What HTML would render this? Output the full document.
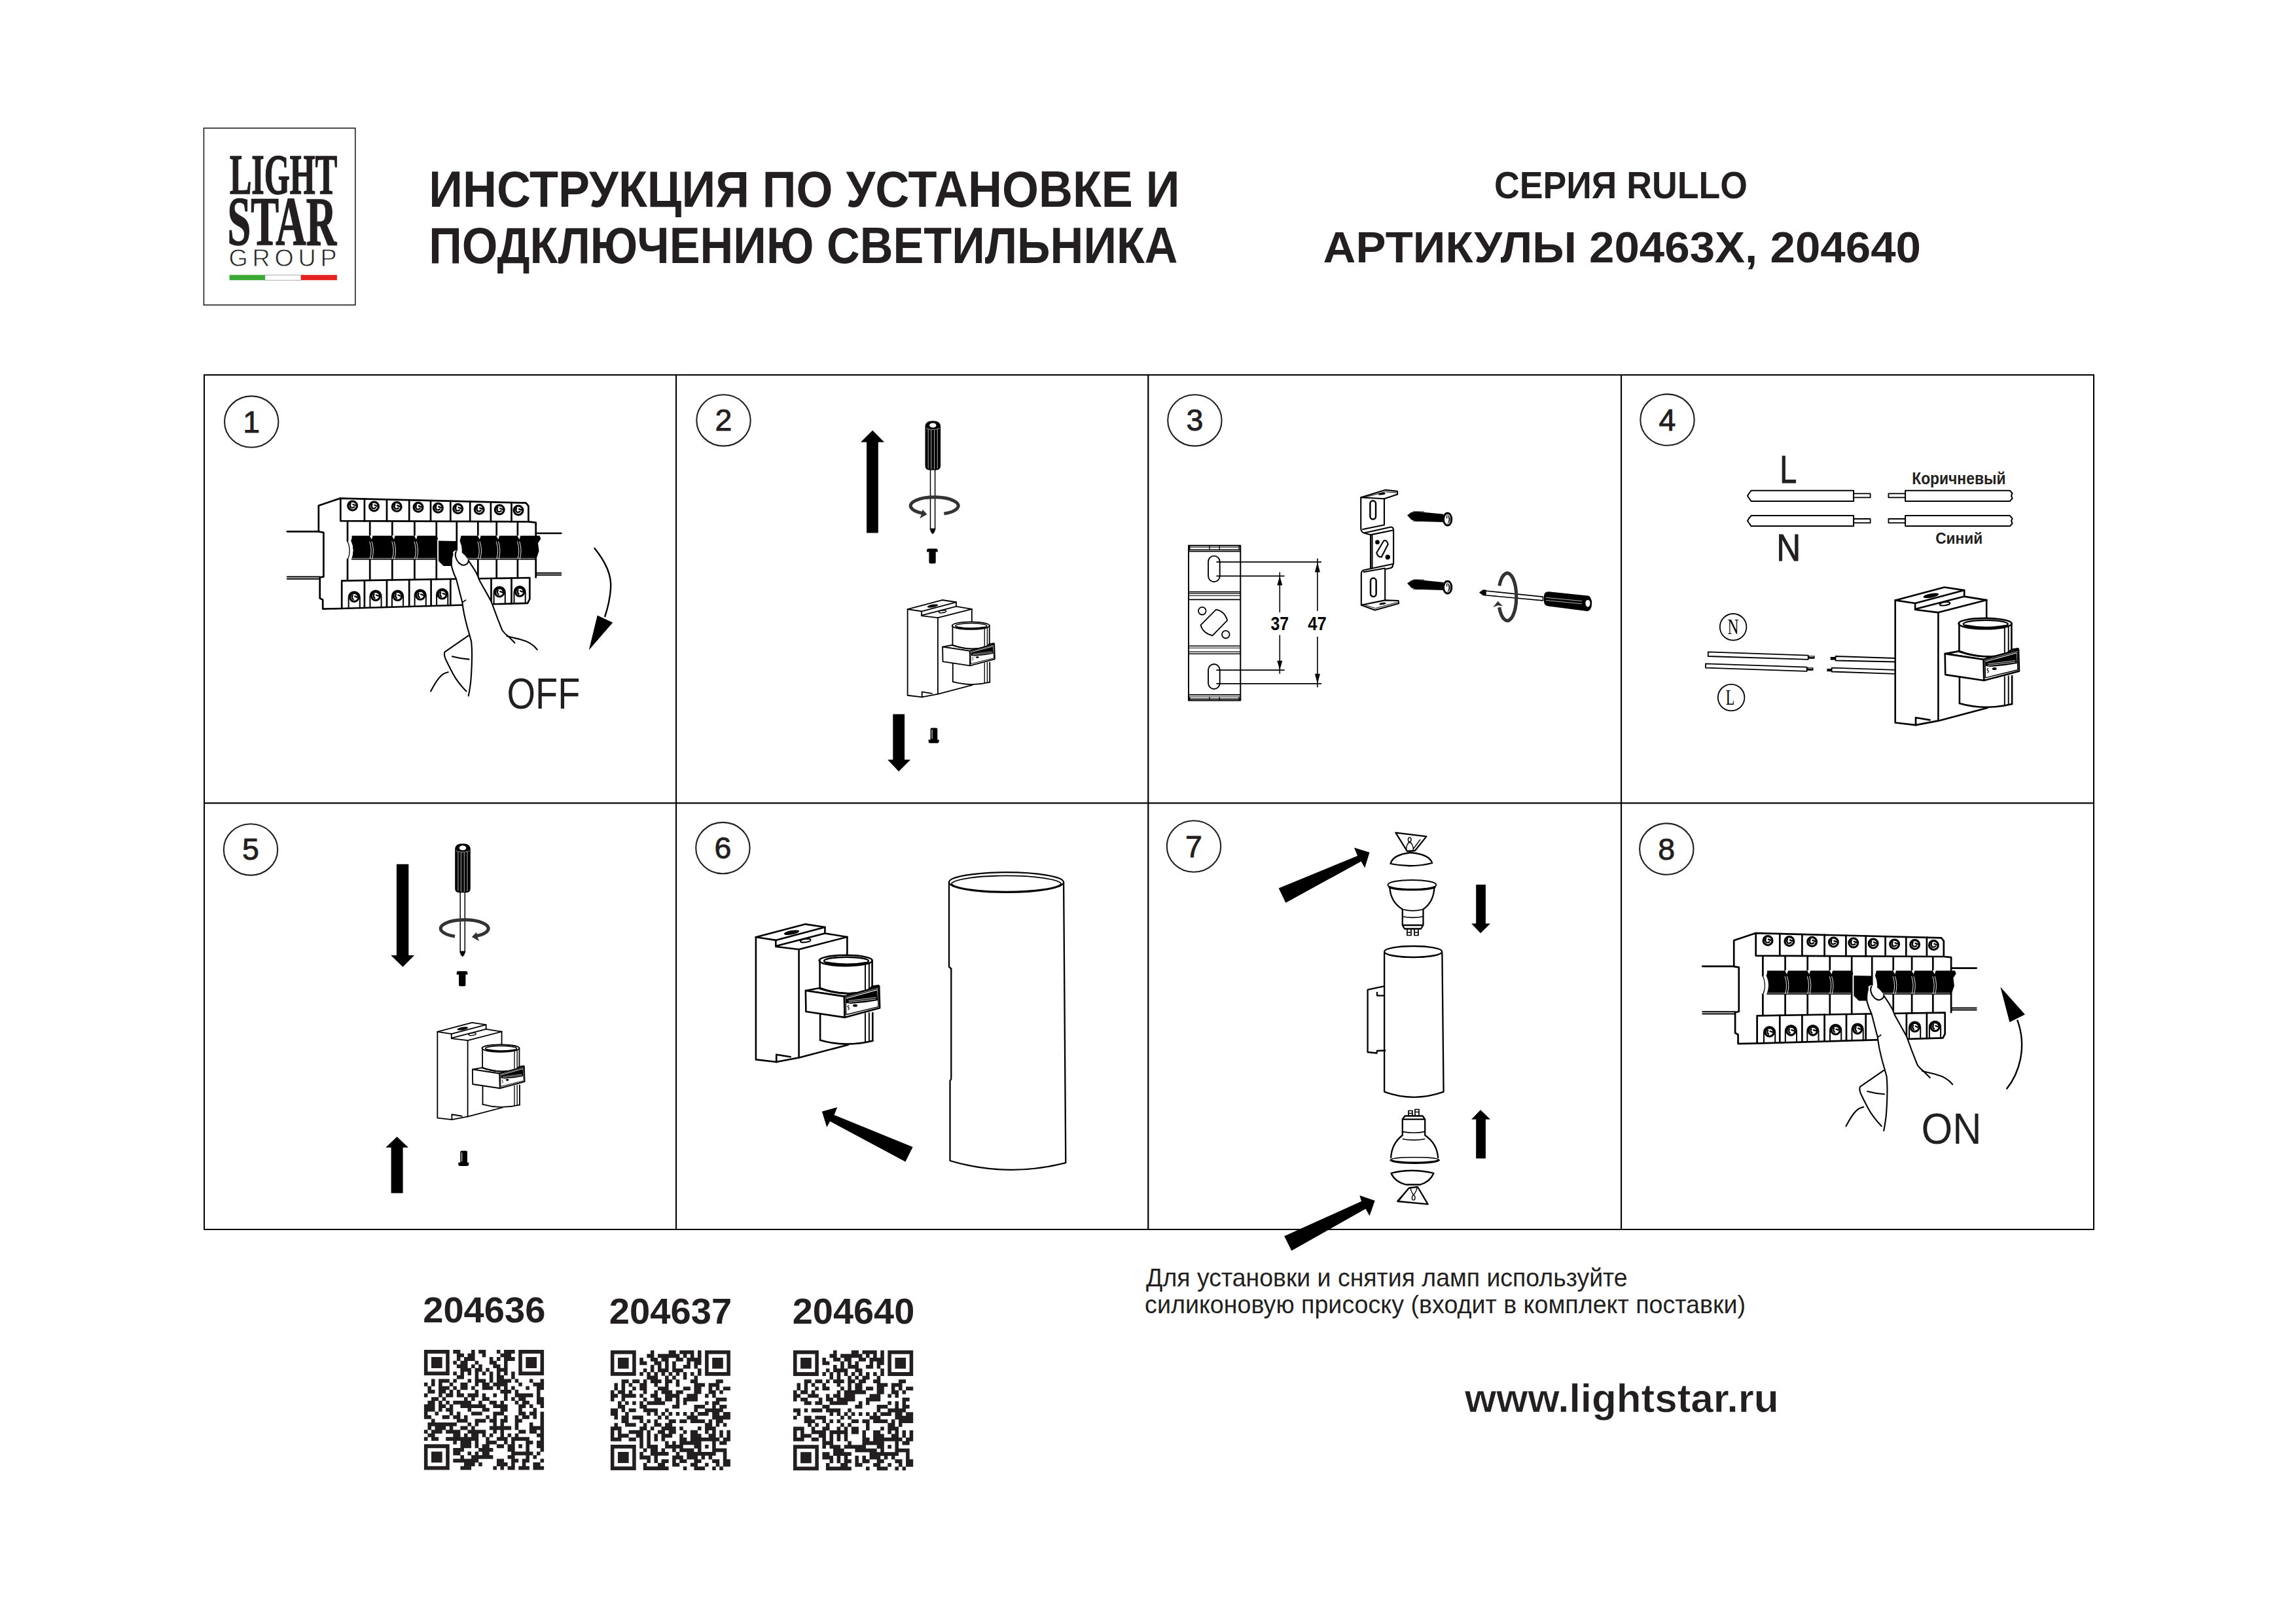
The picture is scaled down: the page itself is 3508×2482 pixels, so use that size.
<!DOCTYPE html>
<html><head><meta charset="utf-8"><title>Инструкция RULLO</title>
<style>
html,body{margin:0;padding:0;background:#fff;}
body{width:3508px;height:2482px;overflow:hidden;position:relative;}
svg{position:absolute;left:0;top:0;}
.t{font-family:"Liberation Sans",sans-serif;fill:#231f20;}
.b{font-weight:bold;}
.ln{fill:none;stroke:#000;stroke-linecap:round;stroke-linejoin:round;}
</style></head>
<body>
<svg width="3508" height="2482" viewBox="0 0 3508 2482">
<!-- LOGO -->
<g id="logo">
<rect x="311.4" y="195.8" width="231.4" height="270.3" fill="none" stroke="#231f20" stroke-width="1.6"/>
<text x="351" y="296.2" class="b" font-family="Liberation Serif" font-size="86" fill="#231f20" stroke="#231f20" stroke-width="1.6" textLength="164" lengthAdjust="spacingAndGlyphs">LIGHT</text>
<text x="347.5" y="373.8" class="b" font-family="Liberation Serif" font-size="105" fill="#231f20" stroke="#231f20" stroke-width="1.6" textLength="166.5" lengthAdjust="spacingAndGlyphs">STAR</text>
<text x="349.5" y="407" class="t" font-size="37.5" font-weight="normal" stroke="#fff" stroke-width="0.8" textLength="165" lengthAdjust="spacing">GROUP</text>
<rect x="350.6" y="420.2" width="54.3" height="8" fill="#3aaa35"/>
<rect x="404.9" y="420.2" width="55" height="8" fill="#fff" stroke="#777" stroke-width="0.6"/>
<rect x="459.9" y="420.2" width="55" height="8" fill="#e52421"/>
</g>
<!-- TITLES -->
<text x="655.2" y="315.9" class="t b" font-size="78" textLength="1147.4" lengthAdjust="spacingAndGlyphs">ИНСТРУКЦИЯ ПО УСТАНОВКЕ И</text>
<text x="655.2" y="401.8" class="t b" font-size="78" textLength="1144.4" lengthAdjust="spacingAndGlyphs">ПОДКЛЮЧЕНИЮ СВЕТИЛЬНИКА</text>
<text x="2283" y="303.2" class="t b" font-size="56.5" textLength="387" lengthAdjust="spacingAndGlyphs">СЕРИЯ RULLO</text>
<text x="2021.6" y="401.4" class="t b" font-size="66.9" textLength="913.4" lengthAdjust="spacingAndGlyphs">АРТИКУЛЫ 20463X, 204640</text>
<!-- GRID -->
<g fill="#000">
<rect x="311" y="572" width="2889" height="2"/>
<rect x="311" y="1226.3" width="2889" height="2.2"/>
<rect x="311" y="1878" width="2889" height="2"/>
<rect x="311" y="572" width="2" height="1308"/>
<rect x="1032" y="572" width="2.1" height="1308"/>
<rect x="1753.2" y="572" width="2.2" height="1308"/>
<rect x="2476" y="572" width="2.1" height="1308"/>
<rect x="3198" y="572" width="2" height="1308"/>
</g>
<!-- STEP NUMBERS -->
<g fill="none" stroke="#231f20" stroke-width="2.1">
<ellipse cx="384.2" cy="644.6" rx="41.2" ry="39.2"/>
<ellipse cx="1105.5" cy="642.4" rx="41.2" ry="39.2"/>
<ellipse cx="1825.4" cy="642.4" rx="41.2" ry="39.2"/>
<ellipse cx="2547.5" cy="641.6" rx="41.2" ry="39.2"/>
<ellipse cx="383" cy="1298.4" rx="41.2" ry="39.2"/>
<ellipse cx="1104.4" cy="1296.1" rx="41.2" ry="39.2"/>
<ellipse cx="1824" cy="1293.5" rx="41.2" ry="39.2"/>
<ellipse cx="2546.3" cy="1297.6" rx="41.2" ry="39.2"/>
</g>
<g class="t" font-size="46.5" text-anchor="middle" stroke="#231f20" stroke-width="0.9">
<text x="384.2" y="661">1</text>
<text x="1105.5" y="658">2</text>
<text x="1825.4" y="658">3</text>
<text x="2547.5" y="658">4</text>
<text x="383" y="1314.1">5</text>
<text x="1104.4" y="1312">6</text>
<text x="1824" y="1309.7">7</text>
<text x="2546.3" y="1314">8</text>
</g>
<!-- PANELS -->

<!-- p1.svg -->
<defs><g id="breaker"><g id="brk" class="ln" stroke-width="2.7">
<path d="M438.8 812.3H487.5M819 815H857.3" />
<path d="M438.8 881.6H489M438.8 884.8H489M819 875.8H857.3M819 878.8H857.3" stroke-width="2"/>
<path d="M519.7 761.6L486.8 772.7V812.5L494.4 813.8V881.4L488.7 882.6V914.2L493.2 916.7V930.6L522.2 930"/>
<path d="M520.3 761.6L803.6 768.7L807.4 773.4V797.4L818.7 798.6V882.6M520.3 761.6V796.1L807.4 797.4"/>
<path d="M556.9 762.5V796.3"/>
<path d="M591.0 763.4V796.4"/>
<path d="M625.2 764.2V796.6"/>
<path d="M658.0 765.1V796.7"/>
<path d="M688.3 765.8V796.9"/>
<path d="M718.2 766.6V797.0"/>
<path d="M749.9 767.4V797.2"/>
<path d="M781.5 768.1V797.3"/>
<circle cx="538.6" cy="773" r="6.9" stroke-width="3.2"/><path d="M535.6 769.5q-2 4 1 6.5M539.6 771l3.5 1.5M538.6 776l2.5 -1" stroke-width="2.4"/>
<circle cx="571.5" cy="774" r="6.9" stroke-width="3.2"/><path d="M568.5 770.5q-2 4 1 6.5M572.5 772l3.5 1.5M571.5 777l2.5 -1" stroke-width="2.4"/>
<circle cx="606.2" cy="774.6" r="6.9" stroke-width="3.2"/><path d="M603.2 771.1q-2 4 1 6.5M607.2 772.6l3.5 1.5M606.2 777.6l2.5 -1" stroke-width="2.4"/>
<circle cx="639" cy="775.3" r="6.9" stroke-width="3.2"/><path d="M636 771.8q-2 4 1 6.5M640 773.3l3.5 1.5M639 778.3l2.5 -1" stroke-width="2.4"/>
<circle cx="669.4" cy="776.3" r="6.9" stroke-width="3.2"/><path d="M666.4 772.8q-2 4 1 6.5M670.4 774.3l3.5 1.5M669.4 779.3l2.5 -1" stroke-width="2.4"/>
<circle cx="699.7" cy="777.5" r="6.9" stroke-width="3.2"/><path d="M696.7 774.0q-2 4 1 6.5M700.7 775.5l3.5 1.5M699.7 780.5l2.5 -1" stroke-width="2.4"/>
<circle cx="732.2" cy="778.4" r="6.9" stroke-width="3.2"/><path d="M729.2 774.9q-2 4 1 6.5M733.2 776.4l3.5 1.5M732.2 781.4l2.5 -1" stroke-width="2.4"/>
<circle cx="763.2" cy="779" r="6.9" stroke-width="3.2"/><path d="M760.2 775.5q-2 4 1 6.5M764.2 777l3.5 1.5M763.2 782l2.5 -1" stroke-width="2.4"/>
<circle cx="792" cy="779.9" r="6.9" stroke-width="3.2"/><path d="M789 776.4q-2 4 1 6.5M793 777.9l3.5 1.5M792 782.9l2.5 -1" stroke-width="2.4"/>
<path d="M531 797.7V827M531 854.8V886.4"/>
<path d="M565.2 797.7V887.0"/>
<path d="M599.3 797.7V886.4"/>
<path d="M633.4 797.7V885.9"/>
<path d="M666.8 797.7V885.3"/>
<path d="M697.8 797.7V884.8"/>
<path d="M730.3 797.7V884.3"/>
<path d="M758.7 797.7V883.8"/>
<path d="M790.9 797.7V883.3"/>
<path d="M522.8 887.7L809.3 883V915.5L806.1 921.8L522.2 930V887.7"/>
<path d="M556.9 887.1V929.0"/>
<path d="M591 886.6V928.0"/>
<path d="M625.2 886.0V927.0"/>
<path d="M658.6 885.5V926.1"/>
<path d="M688.3 885.0V925.2"/>
<path d="M718.5 884.5V924.3"/>
<path d="M750.5 884.0V923.4"/>
<path d="M781.5 883.5V922.5"/>
<path d="M532.6 929.5V912.9A8.6 8.6 0 0 1 549.8000000000001 912.9V929.5" stroke-width="2"/><circle cx="541.2" cy="912.9" r="6.5" stroke-width="3.1"/><path d="M538.7 909.9q-2 4 1 6M542.2 911.4l3 1.2" stroke-width="2.3"/>
<path d="M565.4 928.5V911A8.6 8.6 0 0 1 582.6 911V928.5" stroke-width="2"/><circle cx="574" cy="911" r="6.5" stroke-width="3.1"/><path d="M571.5 908q-2 4 1 6M575 909.5l3 1.2" stroke-width="2.3"/>
<path d="M598.9 927.5V911A8.6 8.6 0 0 1 616.1 911V927.5" stroke-width="2"/><circle cx="607.5" cy="911" r="6.5" stroke-width="3.1"/><path d="M605.0 908q-2 4 1 6M608.5 909.5l3 1.2" stroke-width="2.3"/>
<path d="M633.6 926.5V909.8A8.6 8.6 0 0 1 650.8000000000001 909.8V926.5" stroke-width="2"/><circle cx="642.2" cy="909.8" r="6.5" stroke-width="3.1"/><path d="M639.7 906.8q-2 4 1 6M643.2 908.3l3 1.2" stroke-width="2.3"/>
<path d="M667.1 925.6V908.5A8.6 8.6 0 0 1 684.3000000000001 908.5V925.6" stroke-width="2"/><circle cx="675.7" cy="908.5" r="6.5" stroke-width="3.1"/><path d="M673.2 905.5q-2 4 1 6M676.7 907.0l3 1.2" stroke-width="2.3"/>
<path d="M754.6 923.0V905.4A8.6 8.6 0 0 1 771.8000000000001 905.4V923.0" stroke-width="2"/><circle cx="763.2" cy="905.4" r="6.5" stroke-width="3.1"/><path d="M760.7 902.4q-2 4 1 6M764.2 903.9l3 1.2" stroke-width="2.3"/>
<path d="M785.5 922.1V904.7A8.6 8.6 0 0 1 802.7 904.7V922.1" stroke-width="2"/><circle cx="794.1" cy="904.7" r="6.5" stroke-width="3.1"/><path d="M791.6 901.7q-2 4 1 6M795.1 903.2l3 1.2" stroke-width="2.3"/>
</g>
<g fill="#000" stroke="none">
<path d="M537.5 818.8H667.5L669 823.5L667.5 826.5V855.5H536.5Q542.5 841 536 826.6L537.5 823Z"/>
<path d="M704.5 818.8H824.5L826.3 823.5L822 830L823.5 842L820 852.5L818 855.5H703Q709 841 702.5 826.6Z"/>
<path d="M670 826.4L697.1 827L697.8 838.4L691.5 851L690.2 864.9L677.6 864.9L670 857.4Z"/>
</g>
<g fill="none" stroke="#fff" stroke-width="0.9">
<path d="M564.7 827.5Q569.2 841 565.2 854.5M568.0 827.5Q572.5 841 568.5 854.5"/>
<path d="M598.8 827.5Q603.3 841 599.3 854.5M602.0999999999999 827.5Q606.5999999999999 841 602.5999999999999 854.5"/>
<path d="M632.9 827.5Q637.4 841 633.4 854.5M636.1999999999999 827.5Q640.6999999999999 841 636.6999999999999 854.5"/>
<path d="M729.8 827.5Q734.3 841 730.3 854.5M733.0999999999999 827.5Q737.5999999999999 841 733.5999999999999 854.5"/>
<path d="M758.2 827.5Q762.7 841 758.7 854.5M761.5 827.5Q766.0 841 762.0 854.5"/>
<path d="M790.4 827.5Q794.9 841 790.9 854.5M793.6999999999999 827.5Q798.1999999999999 841 794.1999999999999 854.5"/>
<path d="M537 853.3H666M704 853.3H817" stroke-width="0.7"/></g><path fill="#fff" d="M564.7 818.5L569.7 818.5L567.7 824.5ZM598.8 818.5L603.8 818.5L601.8 824.5ZM632.9 818.5L637.9 818.5L635.9 824.5ZM729.8 818.5L734.8 818.5L732.8 824.5ZM758.2 818.5L763.2 818.5L761.2 824.5ZM790.4 818.5L795.4 818.5L793.4 824.5Z"/><g>
</g>
<path d="M531 827H536.5Q542.5 841 536.5 855H531Z" fill="#fff" stroke="none"/>
<path d="M531 827Q537 841 531.5 855" fill="none" stroke="#000" stroke-width="1.3"/></g><g id="hand"><g class="ln" stroke-width="2.1">
<path fill="#fff" stroke="none" d="M691.7 846.5C692 843 694 841 697 841.5C705 842 712 849 715.8 856.9L727.9 875.8L732.2 886.2L750.3 918.8L760.6 946.3L767.5 963.5L776.1 972.1L786.4 982.4L715.8 1063.5L719.3 1041L721 1006.6L720.2 980.8L715.9 965.3L709 937.8L706.4 920.6L697 884.4L690 865.5Z"/>
<path d="M691.7 846.5C689.5 853 689.5 860 690 865.5C692 873 694 879 697 884.4C700 896 703 908 706.4 920.6C707 927 708 932 709 937.8C711 947 713 956 715.9 965.3C717.5 971 719 976 720.2 980.8C721 990 721.3 998 721 1006.6C720.8 1018 720.3 1030 719.3 1041C718.5 1049 717.2 1056 715.8 1063.5"/>
<path d="M715.8 856.9C720 863 724 869 727.9 875.8C729.5 879 731 882.5 732.2 886.2C738 897 744 907 750.3 918.8C754 928 757 937 760.6 946.3C763 952 765 958 767.5 963.5C770 967 773 970 776.1 972.1C780 976 783 979 786.4 982.4"/>
<path d="M696.9 843C694.5 847 696 855 701 860C704 863 707 864 709 863.7C713 863 716 860 715.8 856.9"/>
<path d="M774.4 972.1C781 974 788 975.5 795 977.3C806 980 815 985 820.8 992.8"/>
<path d="M715.8 971.3L679.6 996.3C678.5 999 679 1003 680.5 1006.6C684 1014 688 1022 691.7 1029C697 1039 704 1048 712.4 1056.6"/>
<path d="M690.8 1003.3C699 1005.5 707 1007 716.6 1007.6"/>
<path d="M658.1 1056.6C662 1049 666 1042 671 1035.9C675 1031 679 1028.5 684.8 1027.3"/>
<path d="M706.4 920.6L711.5 917.2" stroke-width="1.7"/>
</g></g></defs>
<use href="#breaker"/><use href="#hand"/>
<path d="M907.8 837.2C925 858 935 880 933 900C932 915 929 928 924 943" fill="none" stroke="#000" stroke-width="2.4"/>
<path d="M899.8 993.4L936.2 951.5L912.7 940.5Z" fill="#000"/>
<text x="774.5" y="1082.8" class="t" font-size="66.7" textLength="112" lengthAdjust="spacingAndGlyphs" fill="#000">OFF</text>
<g transform="translate(2162.4,664.6)"><use href="#breaker"/><use href="#hand"/></g>
<path d="M3065.7 1664.6C3085.6 1639.9 3097.4 1599.9 3082.1 1558.7" fill="none" stroke="#000" stroke-width="2.4"/>
<path d="M3056.3 1508.2L3093.9 1550.5L3070.4 1562.3Z" fill="#000"/>
<text x="2935.6" y="1748.1" class="t" font-size="66.7" textLength="92" lengthAdjust="spacingAndGlyphs" fill="#000">ON</text>
<!-- p2.svg -->
<defs>
<g id="mount" fill="none" stroke="#000" stroke-width="2.6" stroke-linejoin="round" stroke-linecap="round">
<path fill="#fff" d="M1154.9 1432.3L1230 1412.4L1260.4 1417L1260.4 1426.5L1294.4 1432V1597L1221.6 1616.3L1186.2 1623L1156 1619.4Z" stroke="none"/>
<path d="M1154.9 1432.3L1230 1412.4L1260.4 1417V1426.8"/>
<path d="M1154.9 1432.3L1185.3 1436.9V1446.7L1220.6 1451L1294.4 1432"/>
<path d="M1185.3 1436.9L1260.4 1417"/>
<path d="M1186 1445.7L1260.4 1426.5L1294.4 1432"/>
<path d="M1220.6 1451V1616.3"/>
<path d="M1154.9 1432.3V1619.4L1186.2 1623"/>
<path d="M1186.2 1611.7V1623.2M1186.2 1611.7L1207.8 1615.3M1186.2 1623L1221.6 1616.3L1296 1596.7"/>
<path d="M1294.4 1432V1460"/>
<ellipse cx="1209.5" cy="1425.2" rx="12" ry="3.2" fill="#000" stroke="none" transform="rotate(-10 1209.5 1425.2)"/>
<ellipse cx="1230.7" cy="1437.6" rx="8" ry="2.5" stroke-width="2" transform="rotate(-8 1230.7 1437.6)"/>
<path fill="#fff" stroke="none" d="M1251.8 1468V1590Q1292 1602 1333.3 1590.8V1468Z"/>
<ellipse cx="1292.2" cy="1468" rx="40.6" ry="8.2" fill="#fff"/>
<ellipse cx="1293" cy="1468.7" rx="34" ry="5.9" stroke-width="2.4"/>
<path d="M1262 1471Q1293 1477 1323 1471.5" stroke-width="3.2"/>
<path d="M1252.6 1468.2V1511M1253.1 1550V1589.8M1332.6 1467.7V1507M1333.3 1548V1590.8"/>
<path d="M1322 1472.7V1512M1327.9 1472V1511M1322 1549V1593M1327.9 1548V1592" stroke-width="1.9"/>
<path d="M1253.1 1589.8Q1292 1601 1333.3 1590.8"/>
<path fill="#fff" d="M1230.9 1514L1252.8 1510Q1290 1523.5 1323.5 1515L1333 1507.6L1342.5 1506.3L1343.2 1508.1L1290 1522.9Z"/>
<path d="M1252.8 1511Q1290 1523.5 1323.5 1515"/>
<path fill="#fff" d="M1230.9 1514L1290 1522.9L1290.5 1554.9L1231.4 1546Z"/>
<path fill="#fff" d="M1290 1522.9L1343.2 1508.1L1344.2 1540.6L1290.5 1554.9Z"/>
<path d="M1292.3 1524.8L1341.4 1511.2L1342 1538.6L1292.6 1550.8Z" stroke-width="1.4"/>
<path fill="#000" stroke="none" d="M1293 1526.5L1340 1513.5L1341 1529L1322 1532L1300 1534L1293 1533Z"/>
<path d="M1297 1529.5L1338 1524.5M1297 1531.8L1338 1527" stroke="#fff" stroke-width="0.8"/>
<ellipse cx="1306.5" cy="1536.8" rx="3.5" ry="2" fill="#000" stroke="none"/>
<path d="M1297 1536.5q-3 1 -1 3q3 1 0 3.5" stroke-width="1.2"/>
</g>
<g id="sdv">
<path d="M1421.5 716V809.5H1428.6V716Z" fill="#fff" stroke="#000" stroke-width="1.5"/>
<path d="M1421 807.5H1429L1428 813L1425 816.5L1422 813Z" fill="#000"/>
<path d="M1413.5 652Q1413.5 643.3 1425.3 643.3Q1437.1 643.3 1437.1 652V712Q1437.1 718.4 1430 718.4H1420.5Q1413.5 718.4 1413.5 712Z" fill="#000"/>
<ellipse cx="1425.3" cy="650" rx="5.2" ry="3.6" fill="#fff"/>
<path d="M1418.2 656V716M1422.7 657V717M1427.6 657V717M1432.3 656V716" stroke="#fff" stroke-width="0.7"/>
<path d="M1415 654.5Q1425 658.5 1436 654.5" stroke="#fff" stroke-width="0.6" fill="none"/>
</g>
<g id="scr"><path d="M1416 841Q1416 838.4 1418.5 838.4H1430.2Q1432.7 838.4 1432.7 841V843.5H1429.7V859.5Q1429.7 861.3 1427.5 861.3H1421.6Q1419.4 861.3 1419.4 859.5V843.5H1416Z" fill="#000"/></g>
<g id="scr2"><path d="M1421.6 1114.5Q1421.6 1112.5 1423.6 1112.5H1430.3Q1432.3 1112.5 1432.3 1114.5V1130.4H1434.6V1133.5Q1434.6 1135.7 1432 1135.7H1421Q1418.6 1135.7 1418.6 1133.5V1130.4H1421.6Z" fill="#000"/>
<path d="M1424 1115V1129" stroke="#fff" stroke-width="1"/></g>
</defs>
<!-- panel 2 -->
<path d="M1324.1 814.4V675.8H1315.1L1333.2 657.8L1351 675.8H1341.8V814.4Z" fill="#000"/>
<use href="#sdv"/>
<path d="M1442.4 785.1A36.5 13.2 0 1 0 1410.7 784.7" fill="none" stroke="#333" stroke-width="5"/>
<path d="M1409.4 778.5L1416.5 786L1405.2 792.6L1408 786Z" fill="#333"/>
<use href="#scr"/>
<use href="#mount" transform="translate(573.6,-77.3) scale(0.704)"/>
<path d="M1364.3 1091.4H1382.1V1161.1H1391.1L1373.2 1178.9L1356.1 1161.1H1364.3Z" fill="#000"/>
<use href="#scr2"/>

<!-- p3.svg -->
<!-- panel 3 -->
<g fill="none" stroke="#000" stroke-linejoin="round">
<rect x="1816" y="833.8" width="79.3" height="236.8" stroke-width="2"/>
<path d="M1816 836.3H1895.3M1816 907.4H1895.3M1816 910.5H1895.3M1816 990.2H1895.3M1816 996.1H1895.3M1816 1065H1895.3" stroke-width="1.1"/>
<path d="M1816 840.2H1895.3M1816 842.6H1895.3M1816 904.6H1895.3M1816 916.4H1895.3M1816 987.3H1895.3M1816 999.2H1895.3M1816 1061.9H1895.3M1816 1068.3H1895.3" stroke-width="1.6"/>
<path d="M1817.8 834V840M1848 834V840M1863.2 834V840M1893 834V840M1817.8 1065V1070M1848 1065V1070M1863.2 1065V1070M1893 1065V1070" stroke-width="1.3"/>
<rect x="1846.1" y="849.6" width="17.6" height="39.6" rx="8.8" stroke-width="1.9"/>
<rect x="1846.1" y="1015" width="17.6" height="38" rx="8.8" stroke-width="1.9"/>
<circle cx="1836.8" cy="933.7" r="5.8" stroke-width="1.8"/>
<circle cx="1872.8" cy="969.7" r="5.8" stroke-width="1.8"/>
<path d="M1834.4 955.3L1858 931.6Q1871 934 1875.2 948.1L1852.5 971.3Q1838 968 1834.4 955.3Z" stroke-width="1.8"/>
<path d="M1858.4 858.9H2019M1858.4 880.4H1962.5M1858.4 1024.1H1962.5M1858.4 1044.9H2019" stroke-width="1.6"/>
<path d="M1955.3 874.4V936.1M1955.3 970.5V1029.7M2012.9 853.6V933.7M2012.9 972.9V1050.5" stroke-width="1.6"/>
</g>
<g fill="#000">
<path d="M1955.3 880.4L1959.3 894.4H1951.3Z"/><path d="M1955.3 1024.1L1959.3 1009.7H1951.3Z"/>
<path d="M2012.9 858.9L2016.9 874.4H2008.9Z"/><path d="M2012.9 1044.9L2016.9 1029.7H2008.9Z"/>
</g>
<text x="1941.5" y="963.3" class="b" font-family="Liberation Sans" font-size="30" fill="#000" textLength="27.6" lengthAdjust="spacingAndGlyphs">37</text>
<text x="1998.3" y="963.3" class="b" font-family="Liberation Sans" font-size="30" fill="#000" textLength="28.4" lengthAdjust="spacingAndGlyphs">47</text>
<!-- Z bracket -->
<g transform="translate(2070,740) scale(0.12317)" fill="none" stroke="#000" stroke-width="17" stroke-linejoin="round" stroke-linecap="round">
<path d="M75 165L380 72L528 88L530 125L365 180Z" fill="#fff"/>
<path d="M105 168L378 95L515 107" stroke-width="8"/>
<ellipse cx="335" cy="120" rx="45" ry="13" fill="#000" stroke="none" transform="rotate(-8 335 120)"/>
<path d="M75 165V550Q78 600 125 608L195 628M365 180V505"/>
<path d="M98 560L365 505M118 605L445 532Q480 530 480 575"/>
<path d="M195 628V1048M215 640V1040" />
<path d="M195 628L470 572M480 575V990M200 1048L470 990"/>
<rect x="190" y="205" width="70" height="230" rx="35" stroke-width="20"/>
<path d="M270 850L360 700Q400 690 412 745L330 905Q283 905 270 850Z"/>
<circle cx="280" cy="720" r="27" fill="#000" stroke="none"/>
<circle cx="408" cy="905" r="30" fill="#000" stroke="none"/>
<path d="M200 1048L115 1065Q78 1075 80 1110V1500M470 990Q478 1035 440 1042L375 1055V1440M110 1090L372 1044"/>
<rect x="195" y="1165" width="70" height="230" rx="35" stroke-width="20"/>
<path d="M80 1500L250 1562L545 1480L540 1445L375 1440Z" fill="#fff"/>
<path d="M100 1490L255 1540L525 1465" stroke-width="8"/>
<ellipse cx="345" cy="1482" rx="42" ry="13" fill="#000" stroke="none" transform="rotate(-10 345 1482)"/>
</g>
<!-- screws -->
<g id="wscrew" transform="translate(2070,740) scale(0.12317)">
<path d="M650 385L700 350L760 338L1100 372L1105 470L760 460L700 440Z" fill="#000"/>
<path d="M720 345l10 -8l10 8l10 -8l10 8l10 -8l10 8l10-8l10 8l10-8l10 8l10-8l10 8l10-8l10 8 M720 452l10 8l10-8l10 8l10-8l10 8l10-8l10 8l10-8l10 8l10-8" stroke="#000" stroke-width="8" fill="none"/>
<ellipse cx="1150" cy="435" rx="50" ry="76" fill="#fff" stroke="#000" stroke-width="24"/>
<path d="M1140 370Q1222 435 1143 502Q1190 435 1140 370Z" fill="#000"/>
<path d="M1135 390Q1150 410 1140 425" stroke="#000" stroke-width="10" fill="none"/>
</g>
<use href="#wscrew" transform="translate(0,104.1)"/>
<!-- screwdriver horizontal -->
<path d="M2259.9 905.5L2266 901.2L2270.5 901.6L2270.5 910.6L2266 910.2Z" fill="#000"/>
<path d="M2269.9 903L2357.6 912.1V917.9L2269.9 909.7Z" fill="#fff" stroke="#000" stroke-width="1.6" stroke-linejoin="round"/>
<path d="M2359 911Q2359 904 2366.5 904.3L2424 910.3L2424.5 933.9L2366 926.5Q2359 926 2359 919Z" fill="#000"/>
<ellipse cx="2425.4" cy="922.1" rx="6.8" ry="11.8" fill="#000"/>
<ellipse cx="2426" cy="922.1" rx="3.6" ry="5.4" fill="#fff"/>
<path d="M2362 913.3L2417 918.6M2362 917.5L2417 922.8" stroke="#fff" stroke-width="0.7"/>
<path d="M2290.8 895.3A13.8 36.3 0 1 1 2290.6 928.2" fill="none" stroke="#333" stroke-width="5.2"/>
<path d="M2281 928.3L2288.5 918.8L2295.9 926.2L2288.7 925.2Z" fill="#333"/>

<!-- p4.svg -->
<!-- panel 4 -->
<text x="2719.2" y="737.6" class="t" font-size="58.7" fill="#231f20" stroke="#231f20" stroke-width="1" textLength="26" lengthAdjust="spacingAndGlyphs">L</text>
<text x="2714.2" y="856.5" class="t" font-size="57" fill="#231f20" stroke="#231f20" stroke-width="1" textLength="37" lengthAdjust="spacingAndGlyphs">N</text>
<g fill="none" stroke="#000" stroke-width="2" stroke-linejoin="round">
<path d="M2675.6 749.8H2832.1V765.9H2675.6L2672 761L2670 757.8L2672 754.5Z"/>
<rect x="2832.1" y="754.3" width="25.5" height="6.1" stroke-width="1.8"/>
<rect x="2885.4" y="754.3" width="25.7" height="6.1" stroke-width="1.8"/>
<path d="M2911.1 749.8H3071L3074.6 754L3073 757.8L3074.6 761.5L3071 765.9H2911.1Z"/>
<path d="M2675.6 788.1H2832.1V804.1H2675.6L2672 799L2670 796L2672 792.5Z"/>
<rect x="2832.1" y="793" width="25.5" height="6.1" stroke-width="1.8"/>
<rect x="2885.4" y="793" width="25.7" height="6.1" stroke-width="1.8"/>
<path d="M2911.1 788.1H3071L3074.6 792.3L3073 796L3074.6 799.8L3071 804.1H2911.1Z"/>
</g>
<text x="2921.2" y="739.6" class="t b" font-size="26" fill="#231f20" textLength="143.3" lengthAdjust="spacingAndGlyphs">Коричневый</text>
<text x="2957.2" y="830.5" class="t b" font-size="24" fill="#231f20" textLength="72" lengthAdjust="spacingAndGlyphs">Синий</text>
<g fill="none" stroke="#000" stroke-width="1.8">
<circle cx="2648.1" cy="958.3" r="20.3"/>
<circle cx="2645.1" cy="1066.1" r="20.3"/>
</g>
<text x="2648.1" y="969.4" font-family="Liberation Serif" font-size="34.5" text-anchor="middle" fill="#000" textLength="17" lengthAdjust="spacingAndGlyphs">N</text>
<text x="2643.6" y="1076.8" font-family="Liberation Serif" font-size="34.5" text-anchor="middle" fill="#000" textLength="13.5" lengthAdjust="spacingAndGlyphs">L</text>
<g fill="none" stroke="#000" stroke-width="1.8" stroke-linejoin="round">
<path d="M2609.8 996.4L2762.7 1001.7V1007.8L2609.8 1003Z"/>
<path d="M2605.9 1014.3L2760.7 1019.6V1025.8L2605.9 1020.6Z"/>
<path d="M2804.5 1003L2896 1006V1011.5L2804.5 1009.5Z"/>
<path d="M2798.6 1020.6L2896 1023.9V1029.8L2798.6 1026.5Z"/>
</g>
<g fill="#000">
<path d="M2762.7 1002.3H2772.5V1006.8H2762.7Z"/><path d="M2760.7 1020.2H2770.5V1024.8H2760.7Z"/>
<path d="M2796.7 1004H2804.5V1008.6H2796.7Z"/><path d="M2791.4 1022H2798.6V1026.2H2791.4Z"/>
</g>
<path d="M2764.5 1003.7H2771M2762.5 1021.7H2769" stroke="#fff" stroke-width="0.8"/>
<use href="#mount" transform="translate(1740.8,-514.9)"/>

<!-- p5.svg -->
<!-- panel 5 -->
<path d="M605.9 1320.8H624.3V1460.1H633.1L615.4 1477.8L597.2 1460.1H605.9Z" fill="#000"/>
<use href="#sdv" transform="translate(-718.3,645.9)"/>
<path d="M695 1431.1A36.5 13.2 0 1 1 726.7 1430.7" fill="none" stroke="#333" stroke-width="5"/>
<path d="M728 1424.5L720.9 1432L732.2 1438.6L729.4 1432Z" fill="#333"/>
<use href="#scr" transform="translate(-718.3,645.9)"/>
<use href="#mount" transform="translate(-144.7,568.6) scale(0.704)"/>
<path d="M597.6 1823.6V1753.8H589.3L606.6 1737.2L623.9 1753.8H615.6V1823.6Z" fill="#000"/>
<use href="#scr2" transform="translate(-718.3,646.3)"/>

<!-- p6.svg -->
<!-- panel 6 -->
<use href="#mount"/>
<g fill="none" stroke="#000" stroke-width="2.3" stroke-linejoin="round">
<path d="M1450 1348V1477.7L1453.3 1480.5V1649L1451.5 1652V1774Q1540 1800 1628.3 1777.1L1625.1 1348"/>
<ellipse cx="1537.5" cy="1348.5" rx="87.6" ry="15.3"/>
<path d="M1453.5 1350.5A84.5 13.6 0 0 1 1621.5 1350.5A84.5 13.6 0 0 1 1453.5 1350.5" stroke-width="1.8"/>
</g>
<path d="M1394.6 1753.1L1383.4 1775.5L1268.1 1713.7L1263.3 1722.7L1255.9 1698.7L1279.3 1692.3L1274.5 1704.1Z" fill="#000"/>

<!-- p7.svg -->
<!-- panel 7 -->
<path d="M1953.7 1357.5L2074.1 1308.1L2069 1295.4L2092.5 1302.8L2085.2 1326.5L2079.7 1316.5L1964.4 1379.7Z" fill="#000"/>
<path d="M1962.2 1889.2L2080 1836L2077.4 1827.1L2100.7 1834.9L2092.5 1858.2L2086.5 1847.5L1973.3 1911.4Z" fill="#000"/>
<path d="M2255.2 1352H2269.9V1411.4H2277L2262.1 1426.2L2248.1 1411.4H2255.2Z" fill="#000"/>
<path d="M2255.2 1770.6H2269.9V1710.7H2277L2262.1 1696.3L2248.1 1710.7H2255.2Z" fill="#000"/>
<g fill="none" stroke="#000" stroke-width="2.3" stroke-linejoin="round">
<!-- lamp body cylinder -->
<path d="M2115.1 1456V1668.6Q2160 1685 2205.6 1668.6L2203.4 1456"/>
<ellipse cx="2159.2" cy="1454.4" rx="44.1" ry="8.4"/>
<path d="M2119 1457A40 6.5 0 0 0 2199.5 1457" stroke-width="1.4"/>
<!-- side mount -->
<path d="M2115.6 1507.2L2089.6 1512.7V1608L2103.5 1609.5L2104 1606L2117.3 1605.5M2104 1516L2104 1521.6L2116 1521.6"/>
<!-- top suction cup -->
<path d="M2132.4 1272.6L2179.4 1278.4L2162 1300L2150 1301Z" fill="#fff"/>
<path d="M2170 1283L2159 1298" stroke-width="1.4"/>
<ellipse cx="2153.7" cy="1283.3" rx="2.3" ry="3.4" stroke-width="1.4"/>
<path d="M2148.5 1299Q2149 1289 2153.7 1287Q2159 1289 2159.5 1299" stroke-width="1.4"/>
<path d="M2124.5 1320Q2128 1306 2156 1303Q2184 1306 2188.2 1319Q2156 1327 2124.5 1320Z" fill="#fff"/>
<!-- top lamp -->
<path d="M2123.3 1355Q2124 1378 2142.8 1389.7V1414L2146 1419.5H2171L2174.5 1414V1389.7Q2191 1378 2191.5 1355M2142.8 1414H2174.5"/>
<path d="M2142.8 1389.7Q2158.5 1394 2174.5 1389.7M2142.8 1400.7Q2158.5 1404 2174.5 1400.7" stroke-width="1.6"/>
<ellipse cx="2157.4" cy="1352.4" rx="37" ry="7.5" fill="#fff" stroke-width="2"/>
<path d="M2122 1355A36 5.5 0 0 0 2193 1355" stroke-width="3.2"/>
<path d="M2150 1419.5V1429.5H2156V1419.5M2161 1419.5V1429.5H2167V1419.5M2149.5 1425H2156.5M2160.5 1425H2167.5" stroke-width="1.7"/>
<!-- bottom lamp (inverted) -->
<path d="M2125.1 1770Q2126 1748 2142.8 1735V1710.7L2146.5 1705.5H2173.5L2177.2 1710.7V1735Q2196 1748 2197.2 1770M2142.8 1710.7H2177.2"/>
<path d="M2142.8 1729.6Q2160 1733 2177.2 1729.6M2142.8 1740.7Q2160 1744 2177.2 1740.7" stroke-width="1.6"/>
<path d="M2124.5 1772.5A37.2 5 0 0 0 2198.8 1772.5" stroke-width="3.4"/>
<path d="M2124.5 1772.5A37.2 4 0 0 1 2198.8 1772.5" stroke-width="1.6"/>
<path d="M2152 1705.5V1697.5H2158V1705.5M2162 1705.5V1695.5H2168V1705.5M2151.5 1701.5H2158.5M2161.5 1699.5H2168.5" stroke-width="1.7"/>
<!-- bottom suction cup -->
<path d="M2125.5 1793Q2156 1785 2190.5 1793Q2185 1806 2170 1810.5H2148Q2131 1806 2125.5 1793Z" fill="#fff"/>
<path d="M2135.1 1836L2181.6 1840.4L2166 1814L2153 1815.5Z" fill="#fff"/>
<path d="M2138 1834.5L2152 1816" stroke-width="1.4"/>
<ellipse cx="2159.7" cy="1830.5" rx="2.3" ry="3.6" stroke-width="1.4"/>
<path d="M2155 1815Q2156 1822 2159.7 1826Q2164 1822 2165 1815" stroke-width="1.4"/>
</g>

<!-- BOTTOM -->
<text x="646.2" y="2021.2" class="t b" font-size="55" textLength="187.2" lengthAdjust="spacingAndGlyphs">204636</text>
<text x="930.8" y="2023.4" class="t b" font-size="55" textLength="187.4" lengthAdjust="spacingAndGlyphs">204637</text>
<text x="1210.7" y="2023.2" class="t b" font-size="55" textLength="186.6" lengthAdjust="spacingAndGlyphs">204640</text>
<path fill="#231f20" d="M647.90 2063.00h38.86v5.80h-38.86zM692.31 2063.00h11.10v5.80h-11.10zM720.07 2063.00h5.55v5.80h-5.55zM731.17 2063.00h11.10v5.80h-11.10zM758.93 2063.00h5.55v5.80h-5.55zM770.03 2063.00h16.65v5.80h-16.65zM792.24 2063.00h38.86v5.80h-38.86zM647.90 2068.55h5.55v5.80h-5.55zM681.21 2068.55h5.55v5.80h-5.55zM697.86 2068.55h11.10v5.80h-11.10zM714.52 2068.55h11.10v5.80h-11.10zM736.72 2068.55h5.55v5.80h-5.55zM764.48 2068.55h16.65v5.80h-16.65zM792.24 2068.55h5.55v5.80h-5.55zM825.55 2068.55h5.55v5.80h-5.55zM647.90 2074.10h5.55v5.80h-5.55zM659.00 2074.10h16.65v5.80h-16.65zM681.21 2074.10h5.55v5.80h-5.55zM697.86 2074.10h5.55v5.80h-5.55zM708.97 2074.10h16.65v5.80h-16.65zM747.83 2074.10h5.55v5.80h-5.55zM758.93 2074.10h5.55v5.80h-5.55zM770.03 2074.10h16.65v5.80h-16.65zM792.24 2074.10h5.55v5.80h-5.55zM803.34 2074.10h16.65v5.80h-16.65zM825.55 2074.10h5.55v5.80h-5.55zM647.90 2079.65h5.55v5.80h-5.55zM659.00 2079.65h16.65v5.80h-16.65zM681.21 2079.65h5.55v5.80h-5.55zM692.31 2079.65h5.55v5.80h-5.55zM703.42 2079.65h11.10v5.80h-11.10zM725.62 2079.65h5.55v5.80h-5.55zM747.83 2079.65h11.10v5.80h-11.10zM770.03 2079.65h5.55v5.80h-5.55zM792.24 2079.65h5.55v5.80h-5.55zM803.34 2079.65h16.65v5.80h-16.65zM825.55 2079.65h5.55v5.80h-5.55zM647.90 2085.21h5.55v5.80h-5.55zM659.00 2085.21h16.65v5.80h-16.65zM681.21 2085.21h5.55v5.80h-5.55zM697.86 2085.21h16.65v5.80h-16.65zM720.07 2085.21h5.55v5.80h-5.55zM731.17 2085.21h5.55v5.80h-5.55zM753.38 2085.21h11.10v5.80h-11.10zM770.03 2085.21h5.55v5.80h-5.55zM792.24 2085.21h5.55v5.80h-5.55zM803.34 2085.21h16.65v5.80h-16.65zM825.55 2085.21h5.55v5.80h-5.55zM647.90 2090.76h5.55v5.80h-5.55zM681.21 2090.76h5.55v5.80h-5.55zM703.42 2090.76h16.65v5.80h-16.65zM725.62 2090.76h11.10v5.80h-11.10zM742.28 2090.76h5.55v5.80h-5.55zM758.93 2090.76h16.65v5.80h-16.65zM792.24 2090.76h5.55v5.80h-5.55zM825.55 2090.76h5.55v5.80h-5.55zM647.90 2096.31h38.86v5.80h-38.86zM692.31 2096.31h5.55v5.80h-5.55zM703.42 2096.31h5.55v5.80h-5.55zM714.52 2096.31h5.55v5.80h-5.55zM725.62 2096.31h5.55v5.80h-5.55zM736.72 2096.31h5.55v5.80h-5.55zM747.83 2096.31h5.55v5.80h-5.55zM758.93 2096.31h5.55v5.80h-5.55zM770.03 2096.31h5.55v5.80h-5.55zM781.14 2096.31h5.55v5.80h-5.55zM792.24 2096.31h38.86v5.80h-38.86zM697.86 2101.86h11.10v5.80h-11.10zM725.62 2101.86h5.55v5.80h-5.55zM747.83 2101.86h5.55v5.80h-5.55zM758.93 2101.86h11.10v5.80h-11.10zM781.14 2101.86h5.55v5.80h-5.55zM659.00 2107.41h5.55v5.80h-5.55zM670.11 2107.41h16.65v5.80h-16.65zM692.31 2107.41h5.55v5.80h-5.55zM714.52 2107.41h5.55v5.80h-5.55zM725.62 2107.41h16.65v5.80h-16.65zM747.83 2107.41h5.55v5.80h-5.55zM758.93 2107.41h22.21v5.80h-22.21zM786.69 2107.41h5.55v5.80h-5.55zM808.89 2107.41h5.55v5.80h-5.55zM825.55 2107.41h5.55v5.80h-5.55zM647.90 2112.96h5.55v5.80h-5.55zM659.00 2112.96h5.55v5.80h-5.55zM670.11 2112.96h5.55v5.80h-5.55zM686.76 2112.96h5.55v5.80h-5.55zM703.42 2112.96h11.10v5.80h-11.10zM725.62 2112.96h5.55v5.80h-5.55zM736.72 2112.96h11.10v5.80h-11.10zM753.38 2112.96h22.21v5.80h-22.21zM792.24 2112.96h5.55v5.80h-5.55zM814.45 2112.96h16.65v5.80h-16.65zM653.45 2118.52h5.55v5.80h-5.55zM670.11 2118.52h16.65v5.80h-16.65zM692.31 2118.52h5.55v5.80h-5.55zM703.42 2118.52h11.10v5.80h-11.10zM720.07 2118.52h5.55v5.80h-5.55zM736.72 2118.52h16.65v5.80h-16.65zM758.93 2118.52h5.55v5.80h-5.55zM770.03 2118.52h5.55v5.80h-5.55zM781.14 2118.52h5.55v5.80h-5.55zM803.34 2118.52h5.55v5.80h-5.55zM820.00 2118.52h11.10v5.80h-11.10zM653.45 2124.07h11.10v5.80h-11.10zM670.11 2124.07h11.10v5.80h-11.10zM686.76 2124.07h5.55v5.80h-5.55zM697.86 2124.07h5.55v5.80h-5.55zM725.62 2124.07h5.55v5.80h-5.55zM764.48 2124.07h16.65v5.80h-16.65zM786.69 2124.07h5.55v5.80h-5.55zM820.00 2124.07h5.55v5.80h-5.55zM647.90 2129.62h5.55v5.80h-5.55zM670.11 2129.62h5.55v5.80h-5.55zM681.21 2129.62h11.10v5.80h-11.10zM697.86 2129.62h11.10v5.80h-11.10zM714.52 2129.62h16.65v5.80h-16.65zM736.72 2129.62h5.55v5.80h-5.55zM753.38 2129.62h5.55v5.80h-5.55zM770.03 2129.62h5.55v5.80h-5.55zM786.69 2129.62h27.76v5.80h-27.76zM820.00 2129.62h5.55v5.80h-5.55zM659.00 2135.17h11.10v5.80h-11.10zM675.66 2135.17h5.55v5.80h-5.55zM708.97 2135.17h5.55v5.80h-5.55zM720.07 2135.17h5.55v5.80h-5.55zM736.72 2135.17h11.10v5.80h-11.10zM770.03 2135.17h5.55v5.80h-5.55zM781.14 2135.17h5.55v5.80h-5.55zM792.24 2135.17h11.10v5.80h-11.10zM820.00 2135.17h11.10v5.80h-11.10zM653.45 2140.72h11.10v5.80h-11.10zM670.11 2140.72h5.55v5.80h-5.55zM681.21 2140.72h5.55v5.80h-5.55zM692.31 2140.72h27.76v5.80h-27.76zM731.17 2140.72h5.55v5.80h-5.55zM747.83 2140.72h11.10v5.80h-11.10zM764.48 2140.72h5.55v5.80h-5.55zM786.69 2140.72h5.55v5.80h-5.55zM797.79 2140.72h11.10v5.80h-11.10zM820.00 2140.72h11.10v5.80h-11.10zM647.90 2146.27h16.65v5.80h-16.65zM670.11 2146.27h11.10v5.80h-11.10zM686.76 2146.27h5.55v5.80h-5.55zM703.42 2146.27h38.86v5.80h-38.86zM753.38 2146.27h22.21v5.80h-22.21zM792.24 2146.27h11.10v5.80h-11.10zM808.89 2146.27h5.55v5.80h-5.55zM825.55 2146.27h5.55v5.80h-5.55zM647.90 2151.82h16.65v5.80h-16.65zM670.11 2151.82h5.55v5.80h-5.55zM681.21 2151.82h11.10v5.80h-11.10zM714.52 2151.82h5.55v5.80h-5.55zM736.72 2151.82h11.10v5.80h-11.10zM764.48 2151.82h11.10v5.80h-11.10zM792.24 2151.82h5.55v5.80h-5.55zM814.45 2151.82h5.55v5.80h-5.55zM647.90 2157.38h5.55v5.80h-5.55zM664.55 2157.38h5.55v5.80h-5.55zM686.76 2157.38h5.55v5.80h-5.55zM697.86 2157.38h5.55v5.80h-5.55zM720.07 2157.38h16.65v5.80h-16.65zM753.38 2157.38h16.65v5.80h-16.65zM792.24 2157.38h11.10v5.80h-11.10zM808.89 2157.38h11.10v5.80h-11.10zM825.55 2157.38h5.55v5.80h-5.55zM647.90 2162.93h11.10v5.80h-11.10zM675.66 2162.93h11.10v5.80h-11.10zM692.31 2162.93h11.10v5.80h-11.10zM708.97 2162.93h5.55v5.80h-5.55zM742.28 2162.93h5.55v5.80h-5.55zM753.38 2162.93h5.55v5.80h-5.55zM770.03 2162.93h5.55v5.80h-5.55zM786.69 2162.93h5.55v5.80h-5.55zM797.79 2162.93h11.10v5.80h-11.10zM814.45 2162.93h5.55v5.80h-5.55zM825.55 2162.93h5.55v5.80h-5.55zM659.00 2168.48h5.55v5.80h-5.55zM697.86 2168.48h16.65v5.80h-16.65zM725.62 2168.48h16.65v5.80h-16.65zM747.83 2168.48h11.10v5.80h-11.10zM764.48 2168.48h11.10v5.80h-11.10zM786.69 2168.48h11.10v5.80h-11.10zM825.55 2168.48h5.55v5.80h-5.55zM653.45 2174.03h44.41v5.80h-44.41zM714.52 2174.03h5.55v5.80h-5.55zM725.62 2174.03h5.55v5.80h-5.55zM753.38 2174.03h5.55v5.80h-5.55zM764.48 2174.03h5.55v5.80h-5.55zM786.69 2174.03h5.55v5.80h-5.55zM808.89 2174.03h5.55v5.80h-5.55zM825.55 2174.03h5.55v5.80h-5.55zM653.45 2179.58h5.55v5.80h-5.55zM664.55 2179.58h16.65v5.80h-16.65zM686.76 2179.58h5.55v5.80h-5.55zM703.42 2179.58h11.10v5.80h-11.10zM720.07 2179.58h5.55v5.80h-5.55zM747.83 2179.58h33.31v5.80h-33.31zM786.69 2179.58h5.55v5.80h-5.55zM808.89 2179.58h22.21v5.80h-22.21zM647.90 2185.13h5.55v5.80h-5.55zM659.00 2185.13h16.65v5.80h-16.65zM681.21 2185.13h22.21v5.80h-22.21zM714.52 2185.13h27.76v5.80h-27.76zM753.38 2185.13h5.55v5.80h-5.55zM764.48 2185.13h5.55v5.80h-5.55zM792.24 2185.13h11.10v5.80h-11.10zM808.89 2185.13h11.10v5.80h-11.10zM825.55 2185.13h5.55v5.80h-5.55zM653.45 2190.68h11.10v5.80h-11.10zM692.31 2190.68h11.10v5.80h-11.10zM708.97 2190.68h5.55v5.80h-5.55zM720.07 2190.68h11.10v5.80h-11.10zM736.72 2190.68h5.55v5.80h-5.55zM747.83 2190.68h5.55v5.80h-5.55zM764.48 2190.68h5.55v5.80h-5.55zM775.58 2190.68h5.55v5.80h-5.55zM786.69 2190.68h5.55v5.80h-5.55zM820.00 2190.68h11.10v5.80h-11.10zM647.90 2196.24h5.55v5.80h-5.55zM659.00 2196.24h11.10v5.80h-11.10zM681.21 2196.24h49.96v5.80h-49.96zM742.28 2196.24h5.55v5.80h-5.55zM758.93 2196.24h16.65v5.80h-16.65zM781.14 2196.24h27.76v5.80h-27.76zM825.55 2196.24h5.55v5.80h-5.55zM692.31 2201.79h5.55v5.80h-5.55zM703.42 2201.79h16.65v5.80h-16.65zM725.62 2201.79h5.55v5.80h-5.55zM742.28 2201.79h16.65v5.80h-16.65zM770.03 2201.79h5.55v5.80h-5.55zM781.14 2201.79h5.55v5.80h-5.55zM803.34 2201.79h11.10v5.80h-11.10zM820.00 2201.79h11.10v5.80h-11.10zM647.90 2207.34h38.86v5.80h-38.86zM703.42 2207.34h16.65v5.80h-16.65zM725.62 2207.34h5.55v5.80h-5.55zM736.72 2207.34h11.10v5.80h-11.10zM758.93 2207.34h11.10v5.80h-11.10zM775.58 2207.34h11.10v5.80h-11.10zM792.24 2207.34h5.55v5.80h-5.55zM803.34 2207.34h5.55v5.80h-5.55zM820.00 2207.34h11.10v5.80h-11.10zM647.90 2212.89h5.55v5.80h-5.55zM681.21 2212.89h5.55v5.80h-5.55zM692.31 2212.89h16.65v5.80h-16.65zM731.17 2212.89h22.21v5.80h-22.21zM775.58 2212.89h11.10v5.80h-11.10zM803.34 2212.89h5.55v5.80h-5.55zM825.55 2212.89h5.55v5.80h-5.55zM647.90 2218.44h5.55v5.80h-5.55zM659.00 2218.44h16.65v5.80h-16.65zM681.21 2218.44h5.55v5.80h-5.55zM692.31 2218.44h11.10v5.80h-11.10zM714.52 2218.44h5.55v5.80h-5.55zM725.62 2218.44h5.55v5.80h-5.55zM736.72 2218.44h11.10v5.80h-11.10zM781.14 2218.44h33.31v5.80h-33.31zM820.00 2218.44h5.55v5.80h-5.55zM647.90 2223.99h5.55v5.80h-5.55zM659.00 2223.99h16.65v5.80h-16.65zM681.21 2223.99h5.55v5.80h-5.55zM703.42 2223.99h5.55v5.80h-5.55zM720.07 2223.99h33.31v5.80h-33.31zM775.58 2223.99h11.10v5.80h-11.10zM803.34 2223.99h5.55v5.80h-5.55zM814.45 2223.99h5.55v5.80h-5.55zM647.90 2229.55h5.55v5.80h-5.55zM659.00 2229.55h16.65v5.80h-16.65zM681.21 2229.55h5.55v5.80h-5.55zM692.31 2229.55h38.86v5.80h-38.86zM758.93 2229.55h11.10v5.80h-11.10zM781.14 2229.55h11.10v5.80h-11.10zM797.79 2229.55h11.10v5.80h-11.10zM825.55 2229.55h5.55v5.80h-5.55zM647.90 2235.10h5.55v5.80h-5.55zM681.21 2235.10h5.55v5.80h-5.55zM708.97 2235.10h16.65v5.80h-16.65zM731.17 2235.10h5.55v5.80h-5.55zM758.93 2235.10h16.65v5.80h-16.65zM781.14 2235.10h5.55v5.80h-5.55zM797.79 2235.10h5.55v5.80h-5.55zM814.45 2235.10h11.10v5.80h-11.10zM647.90 2240.65h38.86v5.80h-38.86zM703.42 2240.65h16.65v5.80h-16.65zM753.38 2240.65h5.55v5.80h-5.55zM764.48 2240.65h5.55v5.80h-5.55zM775.58 2240.65h11.10v5.80h-11.10zM792.24 2240.65h16.65v5.80h-16.65zM814.45 2240.65h16.65v5.80h-16.65z"/>
<path fill="#231f20" d="M932.90 2063.80h38.82v5.80h-38.82zM993.90 2063.80h5.55v5.80h-5.55zM1021.63 2063.80h11.09v5.80h-11.09zM1038.26 2063.80h22.18v5.80h-22.18zM1065.99 2063.80h5.55v5.80h-5.55zM1077.08 2063.80h38.82v5.80h-38.82zM932.90 2069.35h5.55v5.80h-5.55zM966.17 2069.35h5.55v5.80h-5.55zM988.35 2069.35h11.09v5.80h-11.09zM1004.99 2069.35h33.27v5.80h-33.27zM1043.81 2069.35h5.55v5.80h-5.55zM1054.90 2069.35h5.55v5.80h-5.55zM1065.99 2069.35h5.55v5.80h-5.55zM1077.08 2069.35h5.55v5.80h-5.55zM1110.35 2069.35h5.55v5.80h-5.55zM932.90 2074.89h5.55v5.80h-5.55zM943.99 2074.89h16.64v5.80h-16.64zM966.17 2074.89h5.55v5.80h-5.55zM977.26 2074.89h5.55v5.80h-5.55zM993.90 2074.89h11.09v5.80h-11.09zM1010.54 2074.89h11.09v5.80h-11.09zM1032.72 2074.89h11.09v5.80h-11.09zM1049.35 2074.89h22.18v5.80h-22.18zM1077.08 2074.89h5.55v5.80h-5.55zM1088.17 2074.89h16.64v5.80h-16.64zM1110.35 2074.89h5.55v5.80h-5.55zM932.90 2080.44h5.55v5.80h-5.55zM943.99 2080.44h16.64v5.80h-16.64zM966.17 2080.44h5.55v5.80h-5.55zM977.26 2080.44h11.09v5.80h-11.09zM999.45 2080.44h11.09v5.80h-11.09zM1016.08 2080.44h5.55v5.80h-5.55zM1027.17 2080.44h5.55v5.80h-5.55zM1049.35 2080.44h5.55v5.80h-5.55zM1060.45 2080.44h11.09v5.80h-11.09zM1077.08 2080.44h5.55v5.80h-5.55zM1088.17 2080.44h16.64v5.80h-16.64zM1110.35 2080.44h5.55v5.80h-5.55zM932.90 2085.98h5.55v5.80h-5.55zM943.99 2085.98h16.64v5.80h-16.64zM966.17 2085.98h5.55v5.80h-5.55zM993.90 2085.98h5.55v5.80h-5.55zM1004.99 2085.98h5.55v5.80h-5.55zM1016.08 2085.98h5.55v5.80h-5.55zM1027.17 2085.98h5.55v5.80h-5.55zM1043.81 2085.98h11.09v5.80h-11.09zM1060.45 2085.98h5.55v5.80h-5.55zM1077.08 2085.98h5.55v5.80h-5.55zM1088.17 2085.98h16.64v5.80h-16.64zM1110.35 2085.98h5.55v5.80h-5.55zM932.90 2091.53h5.55v5.80h-5.55zM966.17 2091.53h5.55v5.80h-5.55zM982.81 2091.53h5.55v5.80h-5.55zM993.90 2091.53h5.55v5.80h-5.55zM1004.99 2091.53h16.64v5.80h-16.64zM1027.17 2091.53h16.64v5.80h-16.64zM1065.99 2091.53h5.55v5.80h-5.55zM1077.08 2091.53h5.55v5.80h-5.55zM1110.35 2091.53h5.55v5.80h-5.55zM932.90 2097.07h38.82v5.80h-38.82zM977.26 2097.07h5.55v5.80h-5.55zM988.35 2097.07h5.55v5.80h-5.55zM999.45 2097.07h5.55v5.80h-5.55zM1010.54 2097.07h5.55v5.80h-5.55zM1021.63 2097.07h5.55v5.80h-5.55zM1032.72 2097.07h5.55v5.80h-5.55zM1043.81 2097.07h5.55v5.80h-5.55zM1054.90 2097.07h5.55v5.80h-5.55zM1065.99 2097.07h5.55v5.80h-5.55zM1077.08 2097.07h38.82v5.80h-38.82zM988.35 2102.62h16.64v5.80h-16.64zM1016.08 2102.62h5.55v5.80h-5.55zM1027.17 2102.62h5.55v5.80h-5.55zM1043.81 2102.62h5.55v5.80h-5.55zM1060.45 2102.62h5.55v5.80h-5.55zM949.54 2108.16h11.09v5.80h-11.09zM966.17 2108.16h11.09v5.80h-11.09zM982.81 2108.16h5.55v5.80h-5.55zM993.90 2108.16h16.64v5.80h-16.64zM1016.08 2108.16h11.09v5.80h-11.09zM1032.72 2108.16h5.55v5.80h-5.55zM1054.90 2108.16h11.09v5.80h-11.09zM1093.72 2108.16h11.09v5.80h-11.09zM938.45 2113.71h5.55v5.80h-5.55zM949.54 2113.71h5.55v5.80h-5.55zM960.63 2113.71h5.55v5.80h-5.55zM977.26 2113.71h11.09v5.80h-11.09zM999.45 2113.71h5.55v5.80h-5.55zM1016.08 2113.71h5.55v5.80h-5.55zM1032.72 2113.71h5.55v5.80h-5.55zM1060.45 2113.71h16.64v5.80h-16.64zM1082.63 2113.71h16.64v5.80h-16.64zM938.45 2119.25h5.55v5.80h-5.55zM949.54 2119.25h5.55v5.80h-5.55zM966.17 2119.25h5.55v5.80h-5.55zM977.26 2119.25h11.09v5.80h-11.09zM1004.99 2119.25h16.64v5.80h-16.64zM1043.81 2119.25h11.09v5.80h-11.09zM1060.45 2119.25h11.09v5.80h-11.09zM1082.63 2119.25h5.55v5.80h-5.55zM1093.72 2119.25h5.55v5.80h-5.55zM1104.81 2119.25h11.09v5.80h-11.09zM932.90 2124.80h5.55v5.80h-5.55zM943.99 2124.80h11.09v5.80h-11.09zM960.63 2124.80h5.55v5.80h-5.55zM982.81 2124.80h5.55v5.80h-5.55zM999.45 2124.80h5.55v5.80h-5.55zM1010.54 2124.80h16.64v5.80h-16.64zM1032.72 2124.80h11.09v5.80h-11.09zM1060.45 2124.80h11.09v5.80h-11.09zM1082.63 2124.80h11.09v5.80h-11.09zM1099.26 2124.80h5.55v5.80h-5.55zM932.90 2130.35h11.09v5.80h-11.09zM949.54 2130.35h22.18v5.80h-22.18zM977.26 2130.35h5.55v5.80h-5.55zM993.90 2130.35h11.09v5.80h-11.09zM1016.08 2130.35h22.18v5.80h-22.18zM1049.35 2130.35h16.64v5.80h-16.64zM1077.08 2130.35h5.55v5.80h-5.55zM1088.17 2130.35h5.55v5.80h-5.55zM932.90 2135.89h5.55v5.80h-5.55zM949.54 2135.89h5.55v5.80h-5.55zM982.81 2135.89h5.55v5.80h-5.55zM999.45 2135.89h11.09v5.80h-11.09zM1016.08 2135.89h11.09v5.80h-11.09zM1032.72 2135.89h5.55v5.80h-5.55zM1043.81 2135.89h22.18v5.80h-22.18zM1093.72 2135.89h16.64v5.80h-16.64zM943.99 2141.44h5.55v5.80h-5.55zM955.08 2141.44h5.55v5.80h-5.55zM966.17 2141.44h5.55v5.80h-5.55zM977.26 2141.44h5.55v5.80h-5.55zM988.35 2141.44h27.73v5.80h-27.73zM1032.72 2141.44h5.55v5.80h-5.55zM1043.81 2141.44h5.55v5.80h-5.55zM1077.08 2141.44h5.55v5.80h-5.55zM1088.17 2141.44h11.09v5.80h-11.09zM943.99 2146.98h11.09v5.80h-11.09zM977.26 2146.98h11.09v5.80h-11.09zM1027.17 2146.98h11.09v5.80h-11.09zM1060.45 2146.98h16.64v5.80h-16.64zM1088.17 2146.98h5.55v5.80h-5.55zM1099.26 2146.98h11.09v5.80h-11.09zM932.90 2152.53h11.09v5.80h-11.09zM949.54 2152.53h5.55v5.80h-5.55zM960.63 2152.53h11.09v5.80h-11.09zM982.81 2152.53h22.18v5.80h-22.18zM1016.08 2152.53h5.55v5.80h-5.55zM1060.45 2152.53h5.55v5.80h-5.55zM1077.08 2152.53h27.73v5.80h-27.73zM932.90 2158.07h11.09v5.80h-11.09zM955.08 2158.07h5.55v5.80h-5.55zM988.35 2158.07h5.55v5.80h-5.55zM999.45 2158.07h5.55v5.80h-5.55zM1010.54 2158.07h5.55v5.80h-5.55zM1021.63 2158.07h5.55v5.80h-5.55zM1032.72 2158.07h5.55v5.80h-5.55zM1043.81 2158.07h5.55v5.80h-5.55zM1054.90 2158.07h5.55v5.80h-5.55zM1065.99 2158.07h16.64v5.80h-16.64zM1088.17 2158.07h11.09v5.80h-11.09zM1104.81 2158.07h11.09v5.80h-11.09zM938.45 2163.62h5.55v5.80h-5.55zM949.54 2163.62h11.09v5.80h-11.09zM966.17 2163.62h16.64v5.80h-16.64zM1004.99 2163.62h5.55v5.80h-5.55zM1016.08 2163.62h5.55v5.80h-5.55zM1049.35 2163.62h16.64v5.80h-16.64zM1088.17 2163.62h27.73v5.80h-27.73zM949.54 2169.16h11.09v5.80h-11.09zM977.26 2169.16h5.55v5.80h-5.55zM988.35 2169.16h5.55v5.80h-5.55zM999.45 2169.16h5.55v5.80h-5.55zM1021.63 2169.16h11.09v5.80h-11.09zM1038.26 2169.16h11.09v5.80h-11.09zM1054.90 2169.16h22.18v5.80h-22.18zM1082.63 2169.16h5.55v5.80h-5.55zM1093.72 2169.16h11.09v5.80h-11.09zM938.45 2174.71h5.55v5.80h-5.55zM955.08 2174.71h16.64v5.80h-16.64zM982.81 2174.71h5.55v5.80h-5.55zM999.45 2174.71h11.09v5.80h-11.09zM1016.08 2174.71h11.09v5.80h-11.09zM1077.08 2174.71h11.09v5.80h-11.09zM1093.72 2174.71h5.55v5.80h-5.55zM1104.81 2174.71h5.55v5.80h-5.55zM932.90 2180.25h16.64v5.80h-16.64zM977.26 2180.25h11.09v5.80h-11.09zM993.90 2180.25h5.55v5.80h-5.55zM1010.54 2180.25h22.18v5.80h-22.18zM1038.26 2180.25h5.55v5.80h-5.55zM1065.99 2180.25h5.55v5.80h-5.55zM1077.08 2180.25h16.64v5.80h-16.64zM932.90 2185.80h5.55v5.80h-5.55zM943.99 2185.80h5.55v5.80h-5.55zM960.63 2185.80h22.18v5.80h-22.18zM988.35 2185.80h5.55v5.80h-5.55zM1004.99 2185.80h11.09v5.80h-11.09zM1021.63 2185.80h11.09v5.80h-11.09zM1043.81 2185.80h5.55v5.80h-5.55zM1054.90 2185.80h11.09v5.80h-11.09zM1077.08 2185.80h5.55v5.80h-5.55zM1088.17 2185.80h5.55v5.80h-5.55zM1099.26 2185.80h5.55v5.80h-5.55zM1110.35 2185.80h5.55v5.80h-5.55zM932.90 2191.35h5.55v5.80h-5.55zM943.99 2191.35h16.64v5.80h-16.64zM971.72 2191.35h11.09v5.80h-11.09zM988.35 2191.35h5.55v5.80h-5.55zM999.45 2191.35h5.55v5.80h-5.55zM1010.54 2191.35h16.64v5.80h-16.64zM1038.26 2191.35h5.55v5.80h-5.55zM1054.90 2191.35h16.64v5.80h-16.64zM1082.63 2191.35h11.09v5.80h-11.09zM1099.26 2191.35h5.55v5.80h-5.55zM1110.35 2191.35h5.55v5.80h-5.55zM932.90 2196.89h16.64v5.80h-16.64zM960.63 2196.89h11.09v5.80h-11.09zM977.26 2196.89h5.55v5.80h-5.55zM988.35 2196.89h5.55v5.80h-5.55zM999.45 2196.89h5.55v5.80h-5.55zM1010.54 2196.89h5.55v5.80h-5.55zM1038.26 2196.89h11.09v5.80h-11.09zM1054.90 2196.89h44.36v5.80h-44.36zM1104.81 2196.89h11.09v5.80h-11.09zM977.26 2202.44h5.55v5.80h-5.55zM988.35 2202.44h5.55v5.80h-5.55zM1016.08 2202.44h5.55v5.80h-5.55zM1027.17 2202.44h5.55v5.80h-5.55zM1038.26 2202.44h33.27v5.80h-33.27zM1088.17 2202.44h5.55v5.80h-5.55zM1099.26 2202.44h11.09v5.80h-11.09zM932.90 2207.98h38.82v5.80h-38.82zM977.26 2207.98h5.55v5.80h-5.55zM988.35 2207.98h16.64v5.80h-16.64zM1016.08 2207.98h27.73v5.80h-27.73zM1060.45 2207.98h11.09v5.80h-11.09zM1077.08 2207.98h5.55v5.80h-5.55zM1088.17 2207.98h5.55v5.80h-5.55zM932.90 2213.53h5.55v5.80h-5.55zM966.17 2213.53h5.55v5.80h-5.55zM982.81 2213.53h5.55v5.80h-5.55zM993.90 2213.53h11.09v5.80h-11.09zM1010.54 2213.53h5.55v5.80h-5.55zM1027.17 2213.53h5.55v5.80h-5.55zM1038.26 2213.53h22.18v5.80h-22.18zM1065.99 2213.53h5.55v5.80h-5.55zM1088.17 2213.53h22.18v5.80h-22.18zM932.90 2219.07h5.55v5.80h-5.55zM943.99 2219.07h16.64v5.80h-16.64zM966.17 2219.07h5.55v5.80h-5.55zM977.26 2219.07h5.55v5.80h-5.55zM993.90 2219.07h27.73v5.80h-27.73zM1032.72 2219.07h5.55v5.80h-5.55zM1049.35 2219.07h44.36v5.80h-44.36zM1104.81 2219.07h5.55v5.80h-5.55zM932.90 2224.62h5.55v5.80h-5.55zM943.99 2224.62h16.64v5.80h-16.64zM966.17 2224.62h5.55v5.80h-5.55zM977.26 2224.62h16.64v5.80h-16.64zM999.45 2224.62h5.55v5.80h-5.55zM1027.17 2224.62h16.64v5.80h-16.64zM1049.35 2224.62h16.64v5.80h-16.64zM1071.54 2224.62h5.55v5.80h-5.55zM1082.63 2224.62h5.55v5.80h-5.55zM1104.81 2224.62h5.55v5.80h-5.55zM932.90 2230.16h5.55v5.80h-5.55zM943.99 2230.16h16.64v5.80h-16.64zM966.17 2230.16h5.55v5.80h-5.55zM988.35 2230.16h5.55v5.80h-5.55zM999.45 2230.16h5.55v5.80h-5.55zM1010.54 2230.16h11.09v5.80h-11.09zM1027.17 2230.16h5.55v5.80h-5.55zM1038.26 2230.16h11.09v5.80h-11.09zM1060.45 2230.16h11.09v5.80h-11.09zM1088.17 2230.16h11.09v5.80h-11.09zM1104.81 2230.16h11.09v5.80h-11.09zM932.90 2235.71h5.55v5.80h-5.55zM966.17 2235.71h5.55v5.80h-5.55zM982.81 2235.71h5.55v5.80h-5.55zM1004.99 2235.71h11.09v5.80h-11.09zM1027.17 2235.71h11.09v5.80h-11.09zM1054.90 2235.71h11.09v5.80h-11.09zM1077.08 2235.71h5.55v5.80h-5.55zM1093.72 2235.71h5.55v5.80h-5.55zM1104.81 2235.71h11.09v5.80h-11.09zM932.90 2241.25h38.82v5.80h-38.82zM982.81 2241.25h38.82v5.80h-38.82zM1043.81 2241.25h5.55v5.80h-5.55zM1060.45 2241.25h16.64v5.80h-16.64zM1088.17 2241.25h5.55v5.80h-5.55zM1099.26 2241.25h5.55v5.80h-5.55z"/>
<path fill="#231f20" d="M1212.00 2063.80h38.86v5.80h-38.86zM1273.07 2063.80h5.55v5.80h-5.55zM1300.82 2063.80h11.10v5.80h-11.10zM1317.48 2063.80h22.21v5.80h-22.21zM1345.24 2063.80h5.55v5.80h-5.55zM1356.34 2063.80h38.86v5.80h-38.86zM1212.00 2069.35h5.55v5.80h-5.55zM1245.31 2069.35h5.55v5.80h-5.55zM1267.52 2069.35h11.10v5.80h-11.10zM1284.17 2069.35h33.31v5.80h-33.31zM1323.03 2069.35h5.55v5.80h-5.55zM1334.13 2069.35h5.55v5.80h-5.55zM1345.24 2069.35h5.55v5.80h-5.55zM1356.34 2069.35h5.55v5.80h-5.55zM1389.65 2069.35h5.55v5.80h-5.55zM1212.00 2074.90h5.55v5.80h-5.55zM1223.10 2074.90h16.65v5.80h-16.65zM1245.31 2074.90h5.55v5.80h-5.55zM1256.41 2074.90h5.55v5.80h-5.55zM1273.07 2074.90h11.10v5.80h-11.10zM1289.72 2074.90h11.10v5.80h-11.10zM1311.93 2074.90h11.10v5.80h-11.10zM1328.58 2074.90h22.21v5.80h-22.21zM1356.34 2074.90h5.55v5.80h-5.55zM1367.44 2074.90h16.65v5.80h-16.65zM1389.65 2074.90h5.55v5.80h-5.55zM1212.00 2080.45h5.55v5.80h-5.55zM1223.10 2080.45h16.65v5.80h-16.65zM1245.31 2080.45h5.55v5.80h-5.55zM1256.41 2080.45h11.10v5.80h-11.10zM1284.17 2080.45h5.55v5.80h-5.55zM1295.27 2080.45h5.55v5.80h-5.55zM1306.38 2080.45h5.55v5.80h-5.55zM1328.58 2080.45h5.55v5.80h-5.55zM1339.68 2080.45h11.10v5.80h-11.10zM1356.34 2080.45h5.55v5.80h-5.55zM1367.44 2080.45h16.65v5.80h-16.65zM1389.65 2080.45h5.55v5.80h-5.55zM1212.00 2086.01h5.55v5.80h-5.55zM1223.10 2086.01h16.65v5.80h-16.65zM1245.31 2086.01h5.55v5.80h-5.55zM1273.07 2086.01h5.55v5.80h-5.55zM1284.17 2086.01h5.55v5.80h-5.55zM1295.27 2086.01h16.65v5.80h-16.65zM1323.03 2086.01h11.10v5.80h-11.10zM1339.68 2086.01h5.55v5.80h-5.55zM1356.34 2086.01h5.55v5.80h-5.55zM1367.44 2086.01h16.65v5.80h-16.65zM1389.65 2086.01h5.55v5.80h-5.55zM1212.00 2091.56h5.55v5.80h-5.55zM1245.31 2091.56h5.55v5.80h-5.55zM1261.96 2091.56h5.55v5.80h-5.55zM1273.07 2091.56h22.21v5.80h-22.21zM1306.38 2091.56h11.10v5.80h-11.10zM1345.24 2091.56h5.55v5.80h-5.55zM1356.34 2091.56h5.55v5.80h-5.55zM1389.65 2091.56h5.55v5.80h-5.55zM1212.00 2097.11h38.86v5.80h-38.86zM1256.41 2097.11h5.55v5.80h-5.55zM1267.52 2097.11h5.55v5.80h-5.55zM1278.62 2097.11h5.55v5.80h-5.55zM1289.72 2097.11h5.55v5.80h-5.55zM1300.82 2097.11h5.55v5.80h-5.55zM1311.93 2097.11h5.55v5.80h-5.55zM1323.03 2097.11h5.55v5.80h-5.55zM1334.13 2097.11h5.55v5.80h-5.55zM1345.24 2097.11h5.55v5.80h-5.55zM1356.34 2097.11h38.86v5.80h-38.86zM1267.52 2102.66h5.55v5.80h-5.55zM1278.62 2102.66h5.55v5.80h-5.55zM1295.27 2102.66h5.55v5.80h-5.55zM1306.38 2102.66h5.55v5.80h-5.55zM1317.48 2102.66h11.10v5.80h-11.10zM1339.68 2102.66h5.55v5.80h-5.55zM1228.65 2108.21h11.10v5.80h-11.10zM1245.31 2108.21h11.10v5.80h-11.10zM1261.96 2108.21h5.55v5.80h-5.55zM1273.07 2108.21h16.65v5.80h-16.65zM1295.27 2108.21h11.10v5.80h-11.10zM1311.93 2108.21h11.10v5.80h-11.10zM1334.13 2108.21h11.10v5.80h-11.10zM1372.99 2108.21h11.10v5.80h-11.10zM1217.55 2113.76h5.55v5.80h-5.55zM1228.65 2113.76h5.55v5.80h-5.55zM1239.76 2113.76h5.55v5.80h-5.55zM1256.41 2113.76h5.55v5.80h-5.55zM1278.62 2113.76h5.55v5.80h-5.55zM1295.27 2113.76h5.55v5.80h-5.55zM1306.38 2113.76h11.10v5.80h-11.10zM1339.68 2113.76h16.65v5.80h-16.65zM1361.89 2113.76h16.65v5.80h-16.65zM1217.55 2119.32h5.55v5.80h-5.55zM1228.65 2119.32h5.55v5.80h-5.55zM1245.31 2119.32h5.55v5.80h-5.55zM1256.41 2119.32h11.10v5.80h-11.10zM1284.17 2119.32h5.55v5.80h-5.55zM1295.27 2119.32h5.55v5.80h-5.55zM1306.38 2119.32h11.10v5.80h-11.10zM1323.03 2119.32h11.10v5.80h-11.10zM1339.68 2119.32h11.10v5.80h-11.10zM1361.89 2119.32h5.55v5.80h-5.55zM1372.99 2119.32h5.55v5.80h-5.55zM1384.10 2119.32h11.10v5.80h-11.10zM1212.00 2124.87h5.55v5.80h-5.55zM1223.10 2124.87h11.10v5.80h-11.10zM1239.76 2124.87h5.55v5.80h-5.55zM1278.62 2124.87h5.55v5.80h-5.55zM1289.72 2124.87h33.31v5.80h-33.31zM1339.68 2124.87h11.10v5.80h-11.10zM1361.89 2124.87h11.10v5.80h-11.10zM1378.55 2124.87h5.55v5.80h-5.55zM1212.00 2130.42h11.10v5.80h-11.10zM1234.21 2130.42h16.65v5.80h-16.65zM1261.96 2130.42h5.55v5.80h-5.55zM1273.07 2130.42h11.10v5.80h-11.10zM1289.72 2130.42h16.65v5.80h-16.65zM1328.58 2130.42h16.65v5.80h-16.65zM1356.34 2130.42h5.55v5.80h-5.55zM1367.44 2130.42h5.55v5.80h-5.55zM1212.00 2135.97h5.55v5.80h-5.55zM1223.10 2135.97h11.10v5.80h-11.10zM1250.86 2135.97h5.55v5.80h-5.55zM1261.96 2135.97h11.10v5.80h-11.10zM1278.62 2135.97h27.76v5.80h-27.76zM1323.03 2135.97h22.21v5.80h-22.21zM1378.55 2135.97h11.10v5.80h-11.10zM1228.65 2141.52h11.10v5.80h-11.10zM1245.31 2141.52h11.10v5.80h-11.10zM1267.52 2141.52h27.76v5.80h-27.76zM1311.93 2141.52h5.55v5.80h-5.55zM1323.03 2141.52h5.55v5.80h-5.55zM1356.34 2141.52h5.55v5.80h-5.55zM1367.44 2141.52h5.55v5.80h-5.55zM1378.55 2141.52h5.55v5.80h-5.55zM1256.41 2147.07h11.10v5.80h-11.10zM1306.38 2147.07h11.10v5.80h-11.10zM1339.68 2147.07h16.65v5.80h-16.65zM1367.44 2147.07h5.55v5.80h-5.55zM1378.55 2147.07h11.10v5.80h-11.10zM1212.00 2152.62h11.10v5.80h-11.10zM1228.65 2152.62h5.55v5.80h-5.55zM1239.76 2152.62h16.65v5.80h-16.65zM1261.96 2152.62h22.21v5.80h-22.21zM1295.27 2152.62h5.55v5.80h-5.55zM1339.68 2152.62h5.55v5.80h-5.55zM1356.34 2152.62h27.76v5.80h-27.76zM1217.55 2158.18h5.55v5.80h-5.55zM1267.52 2158.18h5.55v5.80h-5.55zM1278.62 2158.18h5.55v5.80h-5.55zM1289.72 2158.18h5.55v5.80h-5.55zM1300.82 2158.18h5.55v5.80h-5.55zM1311.93 2158.18h5.55v5.80h-5.55zM1323.03 2158.18h5.55v5.80h-5.55zM1334.13 2158.18h5.55v5.80h-5.55zM1345.24 2158.18h16.65v5.80h-16.65zM1367.44 2158.18h11.10v5.80h-11.10zM1384.10 2158.18h11.10v5.80h-11.10zM1212.00 2163.73h5.55v5.80h-5.55zM1228.65 2163.73h11.10v5.80h-11.10zM1245.31 2163.73h16.65v5.80h-16.65zM1284.17 2163.73h5.55v5.80h-5.55zM1295.27 2163.73h5.55v5.80h-5.55zM1328.58 2163.73h16.65v5.80h-16.65zM1367.44 2163.73h27.76v5.80h-27.76zM1228.65 2169.28h16.65v5.80h-16.65zM1256.41 2169.28h5.55v5.80h-5.55zM1267.52 2169.28h5.55v5.80h-5.55zM1278.62 2169.28h5.55v5.80h-5.55zM1300.82 2169.28h11.10v5.80h-11.10zM1317.48 2169.28h11.10v5.80h-11.10zM1334.13 2169.28h22.21v5.80h-22.21zM1361.89 2169.28h5.55v5.80h-5.55zM1372.99 2169.28h22.21v5.80h-22.21zM1234.21 2174.83h5.55v5.80h-5.55zM1245.31 2174.83h5.55v5.80h-5.55zM1261.96 2174.83h5.55v5.80h-5.55zM1284.17 2174.83h5.55v5.80h-5.55zM1295.27 2174.83h5.55v5.80h-5.55zM1323.03 2174.83h5.55v5.80h-5.55zM1356.34 2174.83h11.10v5.80h-11.10zM1372.99 2174.83h5.55v5.80h-5.55zM1212.00 2180.38h16.65v5.80h-16.65zM1239.76 2180.38h5.55v5.80h-5.55zM1256.41 2180.38h11.10v5.80h-11.10zM1278.62 2180.38h5.55v5.80h-5.55zM1289.72 2180.38h5.55v5.80h-5.55zM1300.82 2180.38h11.10v5.80h-11.10zM1323.03 2180.38h5.55v5.80h-5.55zM1345.24 2180.38h5.55v5.80h-5.55zM1356.34 2180.38h16.65v5.80h-16.65zM1212.00 2185.93h5.55v5.80h-5.55zM1223.10 2185.93h5.55v5.80h-5.55zM1239.76 2185.93h22.21v5.80h-22.21zM1267.52 2185.93h27.76v5.80h-27.76zM1300.82 2185.93h11.10v5.80h-11.10zM1317.48 2185.93h5.55v5.80h-5.55zM1334.13 2185.93h11.10v5.80h-11.10zM1356.34 2185.93h5.55v5.80h-5.55zM1367.44 2185.93h5.55v5.80h-5.55zM1378.55 2185.93h5.55v5.80h-5.55zM1389.65 2185.93h5.55v5.80h-5.55zM1212.00 2191.48h5.55v5.80h-5.55zM1223.10 2191.48h16.65v5.80h-16.65zM1250.86 2191.48h11.10v5.80h-11.10zM1267.52 2191.48h5.55v5.80h-5.55zM1278.62 2191.48h5.55v5.80h-5.55zM1289.72 2191.48h5.55v5.80h-5.55zM1317.48 2191.48h5.55v5.80h-5.55zM1334.13 2191.48h16.65v5.80h-16.65zM1361.89 2191.48h11.10v5.80h-11.10zM1378.55 2191.48h5.55v5.80h-5.55zM1389.65 2191.48h5.55v5.80h-5.55zM1212.00 2197.04h16.65v5.80h-16.65zM1239.76 2197.04h11.10v5.80h-11.10zM1256.41 2197.04h5.55v5.80h-5.55zM1267.52 2197.04h5.55v5.80h-5.55zM1278.62 2197.04h5.55v5.80h-5.55zM1289.72 2197.04h5.55v5.80h-5.55zM1317.48 2197.04h11.10v5.80h-11.10zM1334.13 2197.04h44.41v5.80h-44.41zM1384.10 2197.04h11.10v5.80h-11.10zM1256.41 2202.59h16.65v5.80h-16.65zM1295.27 2202.59h5.55v5.80h-5.55zM1317.48 2202.59h33.31v5.80h-33.31zM1367.44 2202.59h5.55v5.80h-5.55zM1378.55 2202.59h11.10v5.80h-11.10zM1212.00 2208.14h38.86v5.80h-38.86zM1256.41 2208.14h5.55v5.80h-5.55zM1267.52 2208.14h16.65v5.80h-16.65zM1289.72 2208.14h33.31v5.80h-33.31zM1339.68 2208.14h11.10v5.80h-11.10zM1356.34 2208.14h5.55v5.80h-5.55zM1367.44 2208.14h5.55v5.80h-5.55zM1212.00 2213.69h5.55v5.80h-5.55zM1245.31 2213.69h5.55v5.80h-5.55zM1273.07 2213.69h16.65v5.80h-16.65zM1306.38 2213.69h33.31v5.80h-33.31zM1345.24 2213.69h5.55v5.80h-5.55zM1367.44 2213.69h22.21v5.80h-22.21zM1212.00 2219.24h5.55v5.80h-5.55zM1223.10 2219.24h16.65v5.80h-16.65zM1245.31 2219.24h5.55v5.80h-5.55zM1256.41 2219.24h11.10v5.80h-11.10zM1273.07 2219.24h27.76v5.80h-27.76zM1328.58 2219.24h44.41v5.80h-44.41zM1384.10 2219.24h5.55v5.80h-5.55zM1212.00 2224.79h5.55v5.80h-5.55zM1223.10 2224.79h16.65v5.80h-16.65zM1245.31 2224.79h5.55v5.80h-5.55zM1256.41 2224.79h16.65v5.80h-16.65zM1278.62 2224.79h5.55v5.80h-5.55zM1289.72 2224.79h5.55v5.80h-5.55zM1306.38 2224.79h5.55v5.80h-5.55zM1317.48 2224.79h5.55v5.80h-5.55zM1328.58 2224.79h16.65v5.80h-16.65zM1350.79 2224.79h5.55v5.80h-5.55zM1361.89 2224.79h5.55v5.80h-5.55zM1384.10 2224.79h5.55v5.80h-5.55zM1212.00 2230.35h5.55v5.80h-5.55zM1223.10 2230.35h16.65v5.80h-16.65zM1245.31 2230.35h5.55v5.80h-5.55zM1267.52 2230.35h5.55v5.80h-5.55zM1278.62 2230.35h5.55v5.80h-5.55zM1289.72 2230.35h11.10v5.80h-11.10zM1306.38 2230.35h5.55v5.80h-5.55zM1317.48 2230.35h11.10v5.80h-11.10zM1339.68 2230.35h11.10v5.80h-11.10zM1367.44 2230.35h11.10v5.80h-11.10zM1384.10 2230.35h11.10v5.80h-11.10zM1212.00 2235.90h5.55v5.80h-5.55zM1245.31 2235.90h5.55v5.80h-5.55zM1261.96 2235.90h5.55v5.80h-5.55zM1284.17 2235.90h11.10v5.80h-11.10zM1306.38 2235.90h11.10v5.80h-11.10zM1334.13 2235.90h11.10v5.80h-11.10zM1356.34 2235.90h5.55v5.80h-5.55zM1372.99 2235.90h5.55v5.80h-5.55zM1384.10 2235.90h11.10v5.80h-11.10zM1212.00 2241.45h38.86v5.80h-38.86zM1261.96 2241.45h38.86v5.80h-38.86zM1323.03 2241.45h5.55v5.80h-5.55zM1339.68 2241.45h16.65v5.80h-16.65zM1367.44 2241.45h5.55v5.80h-5.55zM1378.55 2241.45h5.55v5.80h-5.55z"/>
<text x="1751.1" y="1965.6" class="t" font-size="38.5" textLength="735.5" lengthAdjust="spacingAndGlyphs">Для установки и снятия ламп используйте</text>
<text x="1749.1" y="2006.6" class="t" font-size="38.5" textLength="917.9" lengthAdjust="spacingAndGlyphs">силиконовую присоску (входит в комплект поставки)</text>
<text x="2238.1" y="2157.5" class="t b" font-size="61.4" stroke="#fff" stroke-width="0.6" textLength="479.5" lengthAdjust="spacingAndGlyphs">www.lightstar.ru</text>
</svg>
</body></html>
